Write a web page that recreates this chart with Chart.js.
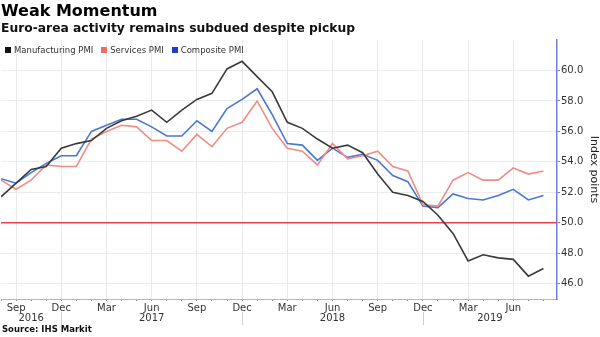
<!DOCTYPE html>
<html>
<head>
<meta charset="utf-8">
<script src="https://cdn.jsdelivr.net/npm/chart.js@4.4.1/dist/chart.umd.min.js"></script>
<style>
  body { margin: 0; background: #fff; font-family: "DejaVu Sans", sans-serif; }
  #wrap { position: relative; width: 600px; height: 337px; overflow: hidden; }
  #chart { position: absolute; left: 0; top: 0; }
  .title { position: absolute; left: 1px; top: 1px; font-weight: bold; font-size: 16px; color: #000; }
  .subtitle { position: absolute; left: 1px; top: 21px; font-weight: bold; font-size: 12.3px; color: #111; }
  .source { position: absolute; left: 2px; top: 324px; font-weight: bold; font-size: 8.5px; color: #111; }
  #legend { position: absolute; left: 5px; top: 45px; font-size: 8.5px; color: #333; display: flex; }
  #legend span.item { display: flex; align-items: center; margin-right: 8px; }
  #legend span.box { display: inline-block; width: 6px; height: 6px; margin-right: 3px; }
</style>
</head>
<body>
<div id="wrap">
  <canvas id="chart" width="600" height="337"></canvas>
  <div class="title">Weak Momentum</div>
  <div class="subtitle">Euro-area activity remains subdued despite pickup</div>
  <div id="legend"></div>
  <div class="source">Source: IHS Markit</div>
</div>
<script>
// ---------------- DATA ----------------
const months = [
  'Aug 2016', 'Sep 2016', 'Oct 2016', 'Nov 2016', 'Dec 2016',
  'Jan 2017', 'Feb 2017', 'Mar 2017', 'Apr 2017', 'May 2017', 'Jun 2017',
  'Jul 2017', 'Aug 2017', 'Sep 2017', 'Oct 2017', 'Nov 2017', 'Dec 2017',
  'Jan 2018', 'Feb 2018', 'Mar 2018', 'Apr 2018', 'May 2018', 'Jun 2018',
  'Jul 2018', 'Aug 2018', 'Sep 2018', 'Oct 2018', 'Nov 2018', 'Dec 2018',
  'Jan 2019', 'Feb 2019', 'Mar 2019', 'Apr 2019', 'May 2019', 'Jun 2019',
  'Jul 2019', 'Aug 2019'
];

const manufacturing = [
  51.7, 52.6, 53.5, 53.7, 54.9,
  55.2, 55.4, 56.2, 56.7, 57.0, 57.4,
  56.6, 57.4, 58.1, 58.5, 60.1, 60.6,
  59.6, 58.6, 56.6, 56.2, 55.5, 54.9,
  55.1, 54.6, 53.2, 52.0, 51.8, 51.4,
  50.5, 49.3, 47.5, 47.9, 47.7, 47.6,
  46.5, 47.0
];

const services = [
  52.8, 52.2, 52.8, 53.8, 53.7,
  53.7, 55.5, 56.0, 56.4, 56.3, 55.4,
  55.4, 54.7, 55.8, 55.0, 56.2, 56.6,
  58.0, 56.2, 54.9, 54.7, 53.8, 55.2,
  54.2, 54.4, 54.7, 53.7, 53.4, 51.2,
  51.1, 52.8, 53.3, 52.8, 52.8, 53.6,
  53.2, 53.4
];

const composite = [
  52.9, 52.6, 53.3, 53.9, 54.4,
  54.4, 56.0, 56.4, 56.8, 56.8, 56.3,
  55.7, 55.7, 56.7, 56.0, 57.5, 58.1,
  58.8, 57.1, 55.2, 55.1, 54.1, 54.9,
  54.3, 54.5, 54.1, 53.1, 52.7, 51.1,
  51.0, 51.9, 51.6, 51.5, 51.8, 52.2,
  51.5, 51.8
];

const threshold = 50;
const yTicks = [46, 48, 50, 52, 54, 56, 58, 60];
const quarterMonths = ['Sep', 'Dec', 'Mar', 'Jun'];

// ---------------- CHART ----------------
const FONT = '"DejaVu Sans", sans-serif';
const X_MAX = months.length - 0.1;

function monthName(i) { return months[i] ? months[i].split(' ')[0] : ''; }
function isQuarter(i) { return quarterMonths.indexOf(monthName(i)) >= 0; }
function toPoints(arr) { return arr.map((v, i) => ({ x: i, y: v })); }

// year labels under the month ticks, with separators at December
const yearPlugin = {
  id: 'years',
  afterDraw(chart) {
    const ctx = chart.ctx;
    const xs = chart.scales.x;
    const years = [...new Set(months.map(m => m.split(' ')[1]))];
    ctx.save();
    ctx.font = '10px ' + FONT;
    ctx.fillStyle = '#333';
    ctx.textAlign = 'center';
    ctx.textBaseline = 'middle';
    years.forEach(y => {
      const prevDec = months.indexOf('Dec ' + (parseInt(y) - 1));
      const dec = months.indexOf('Dec ' + y);
      const start = prevDec >= 0 ? prevDec : 0;
      const end = dec >= 0 ? dec : X_MAX;
      const px = xs.getPixelForValue((start + end) / 2);
      ctx.fillText(y, px, 318);
      if (dec >= 0) {
        const dx = Math.round(xs.getPixelForValue(dec)) + 0.5;
        ctx.strokeStyle = '#cfcfcf';
        ctx.lineWidth = 1;
        ctx.beginPath();
        ctx.moveTo(dx, 312);
        ctx.lineTo(dx, 325);
        ctx.stroke();
      }
    });
    ctx.restore();
  }
};

const chart = new Chart(document.getElementById('chart'), {
  type: 'line',
  data: {
    datasets: [
      {
        label: 'Manufacturing PMI',
        data: toPoints(manufacturing),
        borderColor: '#3a3a3a',
        legendColor: '#111111',
        borderWidth: 1.6,
        pointRadius: 0
      },
      {
        label: 'Services PMI',
        data: toPoints(services),
        borderColor: '#f08c86',
        legendColor: '#f26a66',
        borderWidth: 1.6,
        pointRadius: 0
      },
      {
        label: 'Composite PMI',
        data: toPoints(composite),
        borderColor: '#4a77d0',
        legendColor: '#1f3fc0',
        borderWidth: 1.6,
        pointRadius: 0
      },
      {
        label: 'threshold',
        data: [{ x: 0, y: threshold }, { x: X_MAX, y: threshold }],
        borderColor: '#e8404f',
        borderWidth: 1.5,
        pointRadius: 0,
        hideInLegend: true
      }
    ]
  },
  options: {
    responsive: false,
    animation: false,
    layout: { padding: { top: 40, left: 0, right: 0, bottom: 0 } },
    plugins: {
      legend: { display: false },
      tooltip: { enabled: false }
    },
    scales: {
      x: {
        type: 'linear',
        min: 0,
        max: X_MAX,
        afterBuildTicks: s => { s.ticks = months.map((m, i) => ({ value: i })); },
        afterFit: s => { s.height = 38; },
        border: { color: '#b8b8b8' },
        grid: {
          color: c => (c.tick && isQuarter(c.tick.value)) ? '#e9e9e9' : 'rgba(0,0,0,0)',
          tickColor: '#8a8a8a',
          tickLength: 2
        },
        ticks: {
          autoSkip: false,
          maxRotation: 0,
          padding: 1,
          color: '#333',
          font: { family: FONT, size: 10 },
          callback: v => isQuarter(v) ? monthName(v) : ''
        }
      },
      y: {
        position: 'right',
        min: 45,
        max: 62,
        afterBuildTicks: s => { s.ticks = yTicks.map(v => ({ value: v })); },
        afterFit: s => { s.width = 43; },
        border: { color: '#6f80d8', width: 1.5 },
        grid: {
          color: '#ececec',
          tickColor: '#6f80d8',
          tickLength: 3
        },
        ticks: {
          padding: 1,
          color: '#333',
          font: { family: FONT, size: 10 },
          callback: v => v.toFixed(1)
        },
        title: {
          display: true,
          text: 'Index points',
          color: '#222',
          font: { family: FONT, size: 11 },
          padding: 0
        }
      }
    }
  },
  plugins: [yearPlugin]
});

// HTML legend built from the datasets
const legendDiv = document.getElementById('legend');
chart.data.datasets.filter(d => !d.hideInLegend).forEach(d => {
  legendDiv.innerHTML += `<span class="item"><span class="box" style="background:${d.legendColor}"></span>${d.label}</span>`;
});
</script>
</body>
</html>
